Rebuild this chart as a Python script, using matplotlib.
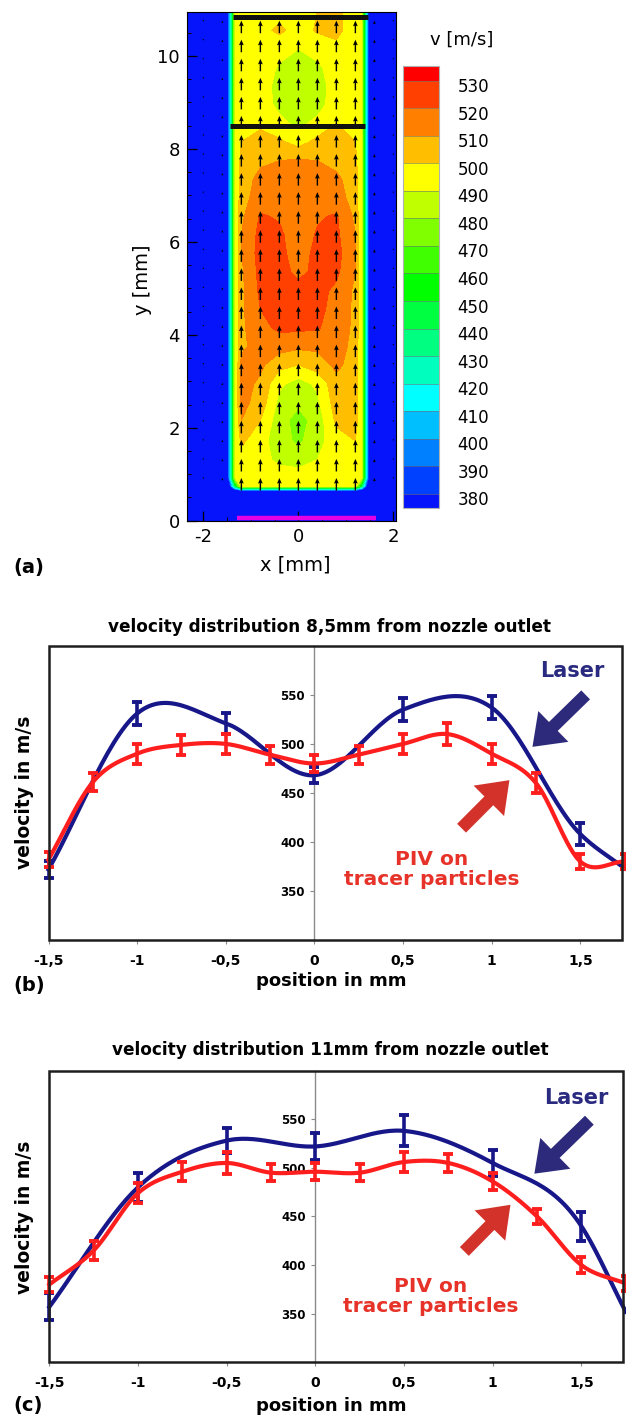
import numpy as np
import matplotlib
matplotlib.use("Agg")
import matplotlib.pyplot as plt
from matplotlib.patches import Rectangle
from matplotlib.ticker import MultipleLocator
from matplotlib.transforms import ScaledTranslation

plt.rcParams["font.family"] = ["DejaVu Sans"]
plt.rcParams["axes.unicode_minus"] = False

# ---------------- (a) PIV velocity field ----------------
# measured core of the jet, columns x [mm], rows y [mm], values v [m/s]
field_cols = [-1.2, -0.8, -0.4, 0.0, 0.4, 0.8, 1.2]
field_rows = [0.92, 1.31, 1.72, 2.16, 2.55, 2.95, 3.35, 3.75, 4.15, 4.55, 4.95,
              5.35, 5.75, 6.15, 6.55, 6.95, 7.35, 7.75, 8.15, 8.55, 8.95, 9.35,
              9.75, 10.15, 10.55, 10.95]
field_v = [
    [492, 495, 495, 495, 495, 495, 492],
    [495, 493, 488, 486, 490, 495, 495],
    [502, 494, 484, 478, 486, 496, 500],
    [510, 500, 484, 476, 484, 502, 505],
    [513, 506, 487, 482, 488, 505, 506],
    [514, 508, 492, 486, 492, 507, 505],
    [513, 512, 503, 500, 505, 512, 506],
    [508, 514, 514, 512, 512, 514, 507],
    [508, 517, 522, 522, 521, 515, 508],
    [508, 520, 524, 524, 523, 516, 508],
    [508, 522, 525, 523, 523, 518, 508],
    [508, 523, 523, 518, 522, 522, 510],
    [510, 524, 523, 515, 523, 524, 510],
    [510, 523, 522, 514, 521, 522, 510],
    [508, 521, 519, 515, 519, 521, 508],
    [506, 515, 516, 516, 516, 514, 506],
    [505, 513, 515, 516, 515, 512, 505],
    [503, 508, 510, 511, 510, 507, 503],
    [500, 504, 502, 496, 503, 504, 500],
    [497, 498, 492, 488, 492, 500, 496],
    [494, 494, 488, 486, 487, 494, 493],
    [494, 494, 487, 485, 486, 494, 493],
    [494, 495, 489, 486, 488, 495, 493],
    [494, 496, 493, 490, 494, 497, 493],
    [494, 497, 502, 496, 501, 503, 494],
    [492, 496, 497, 496, 500, 504, 492],
]
rim_x = [1.33, 1.5]          # jet rim, |x| in mm
rim_v = [490, 360]
foot_y = [0.6, 0.74]         # lower end of the jet
foot_v = [320, 490]
ambient_v = 300

v_levels = list(range(380, 531, 10))
v_colors = ["#0514FA", "#0040FF", "#0080FF", "#00BFFF", "#00FFFF", "#00FFBF",
            "#00FF80", "#00FF40", "#00FF00", "#40FF00", "#80FF00", "#BFFF00",
            "#FFFF00", "#FFBF00", "#FF8000", "#FF4000", "#FF0000"]

piv_x = [-2.0, -1.6, -1.2, -0.8, -0.4, 0.0, 0.4, 0.8, 1.2, 1.6, 2.0]
piv_y0, piv_dy, piv_ny = 0.92, 0.41, 25
arrow_speed = [40, 90, 500, 500, 500, 500, 500, 500, 500, 130, 40]

profile_y = [8.5, 10.83]
profile_x = [(-1.44, 1.41), (-1.37, 1.47)]
nozzle_x = (-1.3, 1.64)

# ---------------- (b), (c) velocity profiles ----------------
laser_pos = [-1.5, -1.0, -0.5, 0.0, 0.5, 1.0, 1.5, 1.75]
piv_pos = [-1.5, -1.25, -1.0, -0.75, -0.5, -0.25, 0.0, 0.25, 0.5, 0.75, 1.0, 1.25, 1.5, 1.75]

laser_85 = [372, 531, 521, 468, 535, 537, 408, 373]
laser_85_err = [9, 12, 11, 8, 12, 12, 11, 0]
piv_85 = [382, 461, 490, 499, 500, 489, 480, 489, 500, 510, 490, 460, 380, 380]
piv_85_err = [8, 9, 10, 10, 10, 9, 9, 9, 10, 11, 10, 10, 8, 8]

laser_11 = [357, 480, 528, 522, 538, 505, 440, 352]
laser_11_err = [14, 15, 13, 14, 16, 13, 15, 0]
piv_11 = [380, 415, 474, 496, 505, 495, 496, 495, 506, 505, 486, 450, 400, 381]
piv_11_err = [8, 10, 10, 10, 11, 9, 9, 9, 10, 9, 9, 8, 8, 8]

pos_ticks = [-1.5, -1.0, -0.5, 0.0, 0.5, 1.0, 1.5]
pos_labels = ["-1,5", "-1", "-0,5", "0", "0,5", "1", "1,5"]
vel_ticks = [350, 400, 450, 500, 550]

LASER_C = "#17178A"
PIV_C = "#FF1E1E"


def smooth_curve(x, y, n=30):
    # cubic Hermite through the points (smoothed line as in the source chart)
    x = np.asarray(x, float)
    y = np.asarray(y, float)
    m = np.gradient(y, x)
    t = np.linspace(0, 1, n, endpoint=False)
    h00 = 2 * t**3 - 3 * t**2 + 1
    h10 = t**3 - 2 * t**2 + t
    h01 = -2 * t**3 + 3 * t**2
    h11 = t**3 - t**2
    xo, yo = [], []
    for i in range(len(x) - 1):
        h = x[i + 1] - x[i]
        xo.append(x[i] + t * h)
        yo.append(h00 * y[i] + h10 * h * m[i] + h01 * y[i + 1] + h11 * h * m[i + 1])
    xo.append([x[-1]])
    yo.append([y[-1]])
    return np.concatenate(xo), np.concatenate(yo)


fig = plt.figure(figsize=(6.26, 14.22), dpi=100)

# ---- panel (a) ----
ax = fig.add_axes([0.2983, 0.6338, 0.3339, 0.3579])
xs = [-2.4, -rim_x[1], -rim_x[0]] + field_cols + [rim_x[0], rim_x[1], 2.1]
ys = [0.0] + foot_y + field_rows
Z = np.full((len(ys), len(xs)), float(ambient_v))
Z[1, 1:-1] = foot_v[0]
Z[2, 2:-2] = foot_v[1]
Z[2, 2] = Z[2, -3] = 440
Z[2, 1] = Z[2, -2] = 340
Z[3:, 3:-3] = np.array(field_v)
Z[3:, 2] = Z[3:, -3] = rim_v[0]
Z[3:, 1] = Z[3:, -2] = rim_v[1]
cs = ax.contourf(xs, ys, Z, levels=v_levels, colors=v_colors, extend="both")

qx, qy = np.meshgrid(piv_x, piv_y0 + piv_dy * np.arange(piv_ny))
qv = np.tile(arrow_speed, (piv_ny, 1))
ax.quiver(qx, qy, np.zeros_like(qv), qv, pivot="tip", angles="xy",
          scale_units="xy", scale=1850, units="dots", width=1.4,
          headwidth=3.4, headlength=4.0, headaxislength=3.6, color="black", zorder=3)

for yy, (x0, x1) in zip(profile_y, profile_x):
    ax.plot([x0, x1], [yy, yy], color="#111111", lw=3.6, solid_capstyle="butt", zorder=4)
ax.plot(nozzle_x, [0.05, 0.05], color="#E600E6", lw=3.2, solid_capstyle="butt",
        zorder=4, clip_on=False)

ax.set_xlim(-2.35, 2.05)
ax.set_ylim(0, 10.95)
ax.set_xticks([-2, 0, 2])
ax.set_yticks([0, 2, 4, 6, 8, 10])
ax.xaxis.set_minor_locator(MultipleLocator(0.5))
ax.yaxis.set_minor_locator(MultipleLocator(0.5))
ax.tick_params(which="major", direction="in", length=7, width=0.9, labelsize=13, pad=5)
ax.tick_params(which="minor", direction="in", length=3, width=0.7)
for s in ax.spines.values():
    s.set_linewidth(0.8)
fig.text(143 / 626, 1 - 280 / 1422, "y [mm]", rotation=90, ha="center", va="center", fontsize=14)
fig.text(295 / 626, 1 - 565 / 1422, "x [mm]", ha="center", va="center", fontsize=14)
fig.text(13 / 626, 1 - 567 / 1422, "(a)", ha="left", va="center", fontsize=14, fontweight="bold")

cax = fig.add_axes([0.6443, 0.6425, 0.0575, 0.311])
cb = fig.colorbar(cs, cax=cax, ticks=v_levels, extendrect=True, extendfrac=0.035,
                  drawedges=True)
cb.outline.set_edgecolor("#b0b0b0")
cb.outline.set_linewidth(0.8)
cb.dividers.set_color("#707070")
cb.dividers.set_linewidth(0.4)
cax.tick_params(length=0, labelsize=12, pad=13)
shift = ScaledTranslation(0, -0.045, fig.dpi_scale_trans)
for lab in cax.get_yticklabels():
    lab.set_transform(lab.get_transform() + shift)
fig.text(462 / 626, 1 - 40 / 1422, "v [m/s]", ha="center", va="center", fontsize=13)


# ---- panels (b), (c) ----
def profile_panel(rect, laser, laser_err, piv, piv_err, title, title_y, label, label_y,
                  ylab_y, xlab_y, laser_txt, piv_txt, laser_arrow, piv_arrow):
    ax = fig.add_axes(rect)
    ax.set_xlim(-1.5, 1.735)
    ax.set_ylim(300, 600)

    lx, ly = smooth_curve(laser_pos, laser)
    ax.plot(lx, ly, color=LASER_C, lw=3.0, zorder=3, clip_on=False)
    px, py = smooth_curve(piv_pos, piv)
    ax.plot(px, py, color=PIV_C, lw=3.0, zorder=5, clip_on=False)

    for pos, val, err, c, z in ((laser_pos, laser, laser_err, LASER_C, 4),
                                (piv_pos, piv, piv_err, PIV_C, 6)):
        keep = [i for i, e in enumerate(err) if e > 0]
        eb = ax.errorbar([pos[i] for i in keep], [val[i] for i in keep],
                         yerr=[err[i] for i in keep], fmt="none", ecolor=c,
                         elinewidth=2.6, capsize=3.8, capthick=2.8, zorder=z)
        for art in eb.get_children():
            art.set_clip_on(False)

    for s in ("top", "right", "bottom"):
        ax.spines[s].set_visible(False)
    ax.spines["left"].set_position(("data", 0))
    ax.spines["left"].set_color("#8a8a8a")
    ax.spines["left"].set_linewidth(1.0)
    ax.add_patch(Rectangle((0, 0), 1, 1, transform=ax.transAxes, fill=False,
                           lw=1.8, ec="#1e1e1e", clip_on=False, zorder=7))

    ax.set_yticks(vel_ticks)
    ax.set_yticklabels([str(v) for v in vel_ticks], fontsize=8.5, fontweight="bold")
    ax.set_xticks(pos_ticks)
    ax.set_xticklabels(pos_labels, fontsize=10, fontweight="bold")
    ax.tick_params(axis="y", direction="out", length=3, width=0.8, color="#8a8a8a", pad=4)
    ax.tick_params(axis="x", direction="out", length=3, width=0.8, color="#8a8a8a", pad=7)

    ax.text(*laser_txt, "Laser", color="#2A2A80", fontsize=15, fontweight="bold",
            ha="center", va="center", zorder=8)
    ax.text(*piv_txt, "PIV on\ntracer particles", color="#E63228", fontsize=14.5,
            fontweight="bold", ha="center", va="center", multialignment="center",
            linespacing=1.05, zorder=8)
    for (tail, tip), c in ((laser_arrow, "#2E2A7B"), (piv_arrow, "#D3322A")):
        ax.annotate("", xy=tip, xytext=tail, annotation_clip=False,
                    arrowprops=dict(arrowstyle="simple,head_length=1.05,head_width=1.55,tail_width=0.45",
                                    fc=c, ec=c, lw=0, mutation_scale=20,
                                    shrinkA=0, shrinkB=0), zorder=8)

    fig.text(330 / 626, 1 - title_y / 1422, title, ha="center", va="baseline",
             fontsize=12.2, fontweight="bold")
    fig.text(25 / 626, 1 - ylab_y / 1422, "velocity in m/s", rotation=90, ha="center",
             va="center", fontsize=13.5, fontweight="bold")
    fig.text(331 / 626, 1 - xlab_y / 1422, "position in mm", ha="center", va="center",
             fontsize=13, fontweight="bold")
    fig.text(13 / 626, 1 - label_y / 1422, label, ha="left", va="center",
             fontsize=14, fontweight="bold")
    return ax


profile_panel([0.0775, 0.3390, 0.9161, 0.2068], laser_85, laser_85_err, piv_85, piv_85_err,
              "velocity distribution 8,5mm from nozzle outlet", 631.7, "(b)", 985,
              792.5, 981, (1.455, 574), (0.66, 372),
              ((1.53, 550), (1.23, 497)), ((0.83, 414), (1.10, 463)))
profile_panel([0.0788, 0.0420, 0.9165, 0.2051], laser_11, laser_11_err, piv_11, piv_11_err,
              "velocity distribution 11mm from nozzle outlet", 1055, "(c)", 1405,
              1217.5, 1406, (1.47, 571.5), (0.65, 368),
              ((1.545, 549), (1.235, 494)), ((0.84, 414), (1.10, 462)))

fig.savefig("out.png", dpi=100)
